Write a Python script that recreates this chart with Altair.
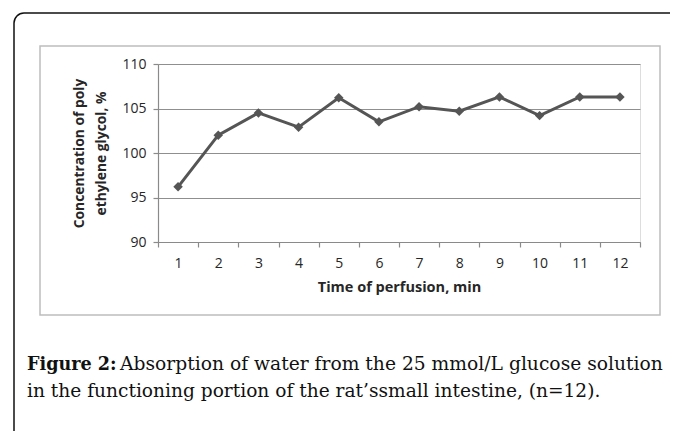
import altair as alt
import pandas as pd

# ---- data ----
times = [str(i) for i in range(1, 13)]
values = [96.2, 102.0, 104.5, 102.9, 106.2, 103.5, 105.2, 104.7, 106.3, 104.2, 106.3, 106.3]
y_ticks = [90, 95, 100, 105, 110]
x_title = "Time of perfusion, min"
y_title = ["Concentration of poly", "ethylene glycol, %"]
caption_bold = "Figure 2:"
caption_line1 = "Absorption of water from the 25 mmol/L glucose solution"
caption_line2 = "in the functioning portion of the rat\u2019ssmall intestine, (n=12)."

df = pd.DataFrame({"time": times, "value": values})
one = pd.DataFrame({"k": [0]})

# plot area origin in page coords
OX, OY = 158, 64
W, H = 482, 178
CW, CH = 662, 423  # canvas size (page minus 8px margins)

axis_font = "Open Sans"
x_enc = alt.X("time:O", sort=times,
              axis=alt.Axis(title=x_title, labelAngle=0, tickBand="extent",
                            labelFontSize=14, labelFont=axis_font, labelColor="#262626",
                            titleFont=axis_font, titleFontSize=14.5, titleFontWeight="bold",
                            titleColor="#262626", titlePadding=10, labelPadding=9,
                            domainColor="#8a8a8a", tickColor="#8a8a8a", tickSize=5,
                            domainWidth=1.2, tickWidth=1.2, grid=False))
y_enc = alt.Y("value:Q", scale=alt.Scale(domain=[90, 110], nice=False, zero=False),
              axis=alt.Axis(title=y_title, values=y_ticks, labelFontSize=14,
                            labelFont=axis_font, labelColor="#262626", labelPadding=7,
                            titleFont=axis_font, titleFontSize=13.8, titleFontWeight="bold",
                            titleColor="#262626", titlePadding=13, titleLineHeight=22,
                            domainColor="#8a8a8a", tickColor="#8a8a8a", tickSize=5,
                            domainWidth=1.2, tickWidth=1.2,
                            grid=True, gridColor="#8f8f8f", gridWidth=1.2))

base = alt.Chart(df)
line = base.mark_line(color="#555555", strokeWidth=3).encode(x=x_enc, y=y_enc)
pts = base.mark_point(shape="diamond", filled=True, size=90, color="#555555", opacity=1).encode(
    x=alt.X("time:O", sort=times), y="value:Q")

outer = alt.Chart(one).mark_rect(fill=None, stroke="#111", strokeWidth=1.5, cornerRadius=10).encode(
    x=alt.value(14 - OX), x2=alt.value(720 - OX), y=alt.value(13 - OY), y2=alt.value(470 - OY))
inner = alt.Chart(one).mark_rect(fill=None, stroke="#bdbdbd", strokeWidth=1.5).encode(
    x=alt.value(40 - OX), x2=alt.value(660 - OX), y=alt.value(46 - OY), y2=alt.value(315 - OY))

cap_font = "DejaVu Serif"
t1 = alt.Chart(one).mark_text(align="left", baseline="alphabetic", font=cap_font, fontSize=17.6,
                              fontWeight="bold", color="#111").encode(
    x=alt.value(27 - OX), y=alt.value(370 - OY), text=alt.value(caption_bold))
t2 = alt.Chart(one).mark_text(align="left", baseline="alphabetic", font=cap_font, fontSize=18.7,
                              color="#111").encode(
    x=alt.value(120 - OX), y=alt.value(370 - OY), text=alt.value(caption_line1))
t3 = alt.Chart(one).mark_text(align="left", baseline="alphabetic", font=cap_font, fontSize=18.6,
                              color="#111").encode(
    x=alt.value(27 - OX), y=alt.value(397 - OY), text=alt.value(caption_line2))

chart = alt.layer(outer, inner, line, pts, t1, t2, t3).properties(
    width=W, height=H,
    autosize=alt.AutoSizeParams(type="none"),
    padding={"left": OX - 8, "top": OY - 8, "right": CW - (OX - 8) - W, "bottom": CH - (OY - 8) - H},
).configure_view(stroke=None).configure(background="white")

chart.save("out.html", embed_options={"renderer": "svg", "actions": False})
